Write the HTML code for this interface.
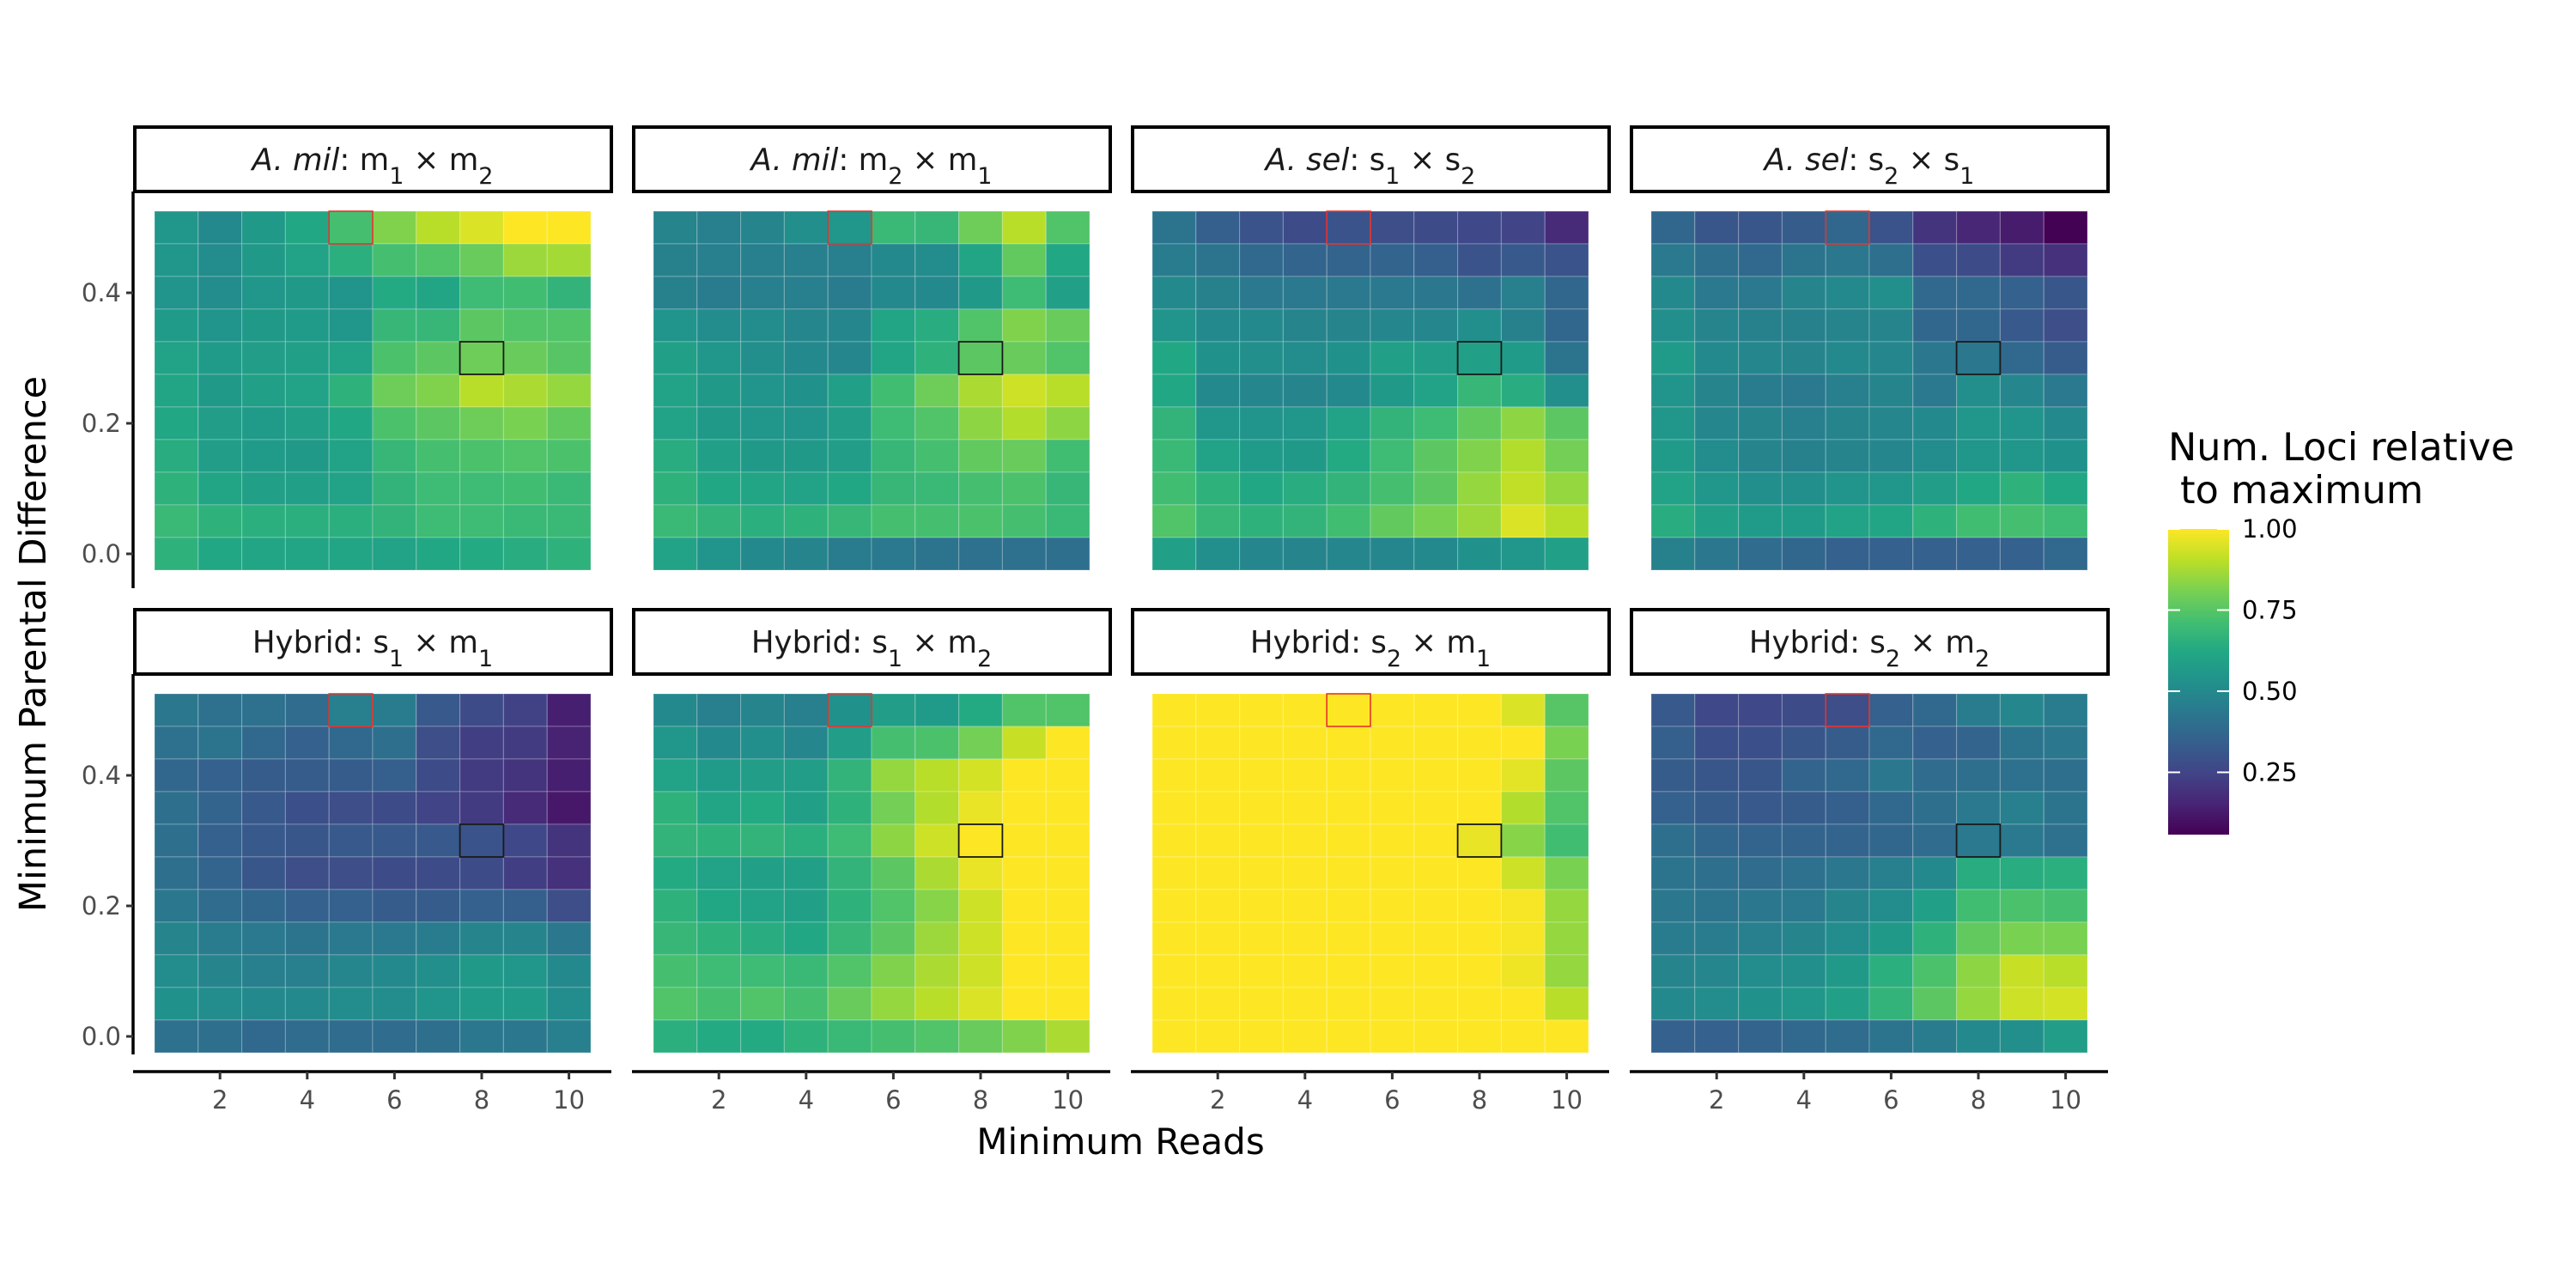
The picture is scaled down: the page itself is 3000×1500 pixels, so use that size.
<!DOCTYPE html>
<html><head><meta charset="utf-8"><style>
html,body{margin:0;padding:0;background:#fff;}
svg{display:block;font-family:"DejaVu Sans","Liberation Sans",sans-serif;}
</style></head><body>
<svg id="chart" xmlns="http://www.w3.org/2000/svg" width="3000" height="1500" viewBox="0 0 3000 1500">
<defs>
<linearGradient id="vgrad" x1="0" y1="1" x2="0" y2="0">
<stop offset="0" stop-color="#440154"/><stop offset="0.1" stop-color="#482475"/><stop offset="0.2" stop-color="#414487"/><stop offset="0.3" stop-color="#355f8d"/><stop offset="0.4" stop-color="#2a788e"/><stop offset="0.5" stop-color="#21918c"/><stop offset="0.6" stop-color="#22a884"/><stop offset="0.7" stop-color="#44bf70"/><stop offset="0.8" stop-color="#7ad151"/><stop offset="0.9" stop-color="#bddf26"/><stop offset="1" stop-color="#fde725"/>
</linearGradient>
</defs>
<rect width="3000" height="1500" fill="#fff"/>
<g id="panels"></g>
<text x="1305" y="1344" font-size="42" text-anchor="middle" fill="#000">Minimum Reads</text>
<text x="0" y="0" font-size="43" text-anchor="middle" fill="#000" transform="translate(53,750) rotate(-90)">Minimum Parental Difference</text>
<g id="legend">
<text x="2525" y="536" font-size="44.5" fill="#000">Num. Loci relative</text>
<text x="2525" y="586" font-size="44.5" fill="#000" xml:space="preserve"> to maximum</text>
<rect x="2525" y="616" width="71" height="356" fill="url(#vgrad)"/>
</g>
</svg>
<script>
const xCategories = [1,2,3,4,5,6,7,8,9,10];
const yCategories = [0.5,0.45,0.4,0.35,0.3,0.25,0.2,0.15,0.1,0.05,0.0];
const xTickLabels = [2,4,6,8,10];
const yTickLabels = [0.0,0.2,0.4];
const legendTicks = [0.25,0.5,0.75,1.0];
const colorMin = 0.058, colorMax = 1.0;
const panelTitles = [
 '<tspan font-style="italic">A. mil</tspan>: m<tspan baseline-shift="sub" font-size="27">1</tspan> × m<tspan baseline-shift="sub" font-size="27">2</tspan>',
 '<tspan font-style="italic">A. mil</tspan>: m<tspan baseline-shift="sub" font-size="27">2</tspan> × m<tspan baseline-shift="sub" font-size="27">1</tspan>',
 '<tspan font-style="italic">A. sel</tspan>: s<tspan baseline-shift="sub" font-size="27">1</tspan> × s<tspan baseline-shift="sub" font-size="27">2</tspan>',
 '<tspan font-style="italic">A. sel</tspan>: s<tspan baseline-shift="sub" font-size="27">2</tspan> × s<tspan baseline-shift="sub" font-size="27">1</tspan>',
 'Hybrid: s<tspan baseline-shift="sub" font-size="27">1</tspan> × m<tspan baseline-shift="sub" font-size="27">1</tspan>',
 'Hybrid: s<tspan baseline-shift="sub" font-size="27">1</tspan> × m<tspan baseline-shift="sub" font-size="27">2</tspan>',
 'Hybrid: s<tspan baseline-shift="sub" font-size="27">2</tspan> × m<tspan baseline-shift="sub" font-size="27">1</tspan>',
 'Hybrid: s<tspan baseline-shift="sub" font-size="27">2</tspan> × m<tspan baseline-shift="sub" font-size="27">2</tspan>'
];
const amilM1M2 = [
[0.55,0.50,0.56,0.62,0.72,0.82,0.90,0.95,1.00,1.00],
[0.55,0.51,0.56,0.60,0.65,0.72,0.74,0.78,0.86,0.87],
[0.54,0.51,0.55,0.56,0.54,0.63,0.61,0.70,0.71,0.67],
[0.57,0.54,0.56,0.57,0.55,0.68,0.68,0.76,0.74,0.74],
[0.60,0.57,0.58,0.59,0.60,0.73,0.76,0.79,0.78,0.75],
[0.61,0.56,0.59,0.60,0.66,0.79,0.82,0.90,0.88,0.85],
[0.62,0.58,0.57,0.59,0.62,0.73,0.76,0.79,0.81,0.77],
[0.64,0.58,0.57,0.56,0.60,0.68,0.72,0.73,0.74,0.73],
[0.66,0.61,0.59,0.59,0.60,0.67,0.70,0.70,0.71,0.69],
[0.69,0.66,0.65,0.65,0.65,0.67,0.70,0.70,0.69,0.69],
[0.66,0.62,0.61,0.61,0.61,0.60,0.62,0.63,0.64,0.66]];
const amilM2M1 = [
[0.48,0.46,0.48,0.52,0.55,0.69,0.68,0.79,0.90,0.74],
[0.47,0.46,0.46,0.46,0.46,0.50,0.51,0.61,0.77,0.62],
[0.47,0.45,0.46,0.46,0.45,0.50,0.50,0.56,0.70,0.59],
[0.54,0.51,0.51,0.49,0.49,0.61,0.64,0.74,0.82,0.78],
[0.59,0.55,0.52,0.50,0.49,0.61,0.66,0.76,0.78,0.74],
[0.60,0.56,0.54,0.53,0.59,0.71,0.79,0.88,0.93,0.90],
[0.60,0.56,0.55,0.54,0.58,0.70,0.74,0.84,0.89,0.84],
[0.64,0.59,0.56,0.56,0.58,0.68,0.72,0.77,0.78,0.71],
[0.66,0.62,0.61,0.60,0.62,0.68,0.69,0.72,0.73,0.68],
[0.69,0.67,0.65,0.66,0.68,0.72,0.72,0.73,0.72,0.69],
[0.60,0.54,0.50,0.48,0.45,0.44,0.42,0.41,0.41,0.40]];
const aselS1S2 = [
[0.42,0.34,0.30,0.27,0.30,0.28,0.27,0.26,0.25,0.17],
[0.45,0.42,0.38,0.36,0.36,0.36,0.34,0.30,0.32,0.30],
[0.50,0.47,0.44,0.44,0.44,0.44,0.43,0.41,0.46,0.37],
[0.54,0.50,0.50,0.48,0.48,0.49,0.49,0.52,0.47,0.37],
[0.62,0.53,0.52,0.51,0.53,0.59,0.58,0.59,0.57,0.42],
[0.62,0.50,0.49,0.48,0.50,0.56,0.60,0.68,0.64,0.52],
[0.67,0.55,0.54,0.55,0.60,0.67,0.70,0.77,0.84,0.76],
[0.69,0.60,0.57,0.56,0.63,0.70,0.76,0.82,0.89,0.80],
[0.71,0.66,0.62,0.64,0.67,0.72,0.76,0.85,0.91,0.85],
[0.74,0.68,0.66,0.67,0.71,0.77,0.81,0.86,0.95,0.90],
[0.59,0.52,0.49,0.48,0.49,0.49,0.50,0.53,0.55,0.59]];
const aselS2S1 = [
[0.37,0.31,0.31,0.33,0.37,0.30,0.20,0.16,0.13,0.06],
[0.44,0.40,0.38,0.42,0.43,0.40,0.29,0.27,0.22,0.19],
[0.50,0.44,0.44,0.48,0.50,0.52,0.38,0.38,0.35,0.31],
[0.52,0.48,0.47,0.47,0.48,0.48,0.37,0.37,0.32,0.28],
[0.57,0.50,0.49,0.48,0.50,0.49,0.43,0.43,0.38,0.33],
[0.54,0.48,0.45,0.44,0.46,0.48,0.44,0.52,0.49,0.44],
[0.55,0.49,0.48,0.46,0.48,0.49,0.50,0.55,0.54,0.50],
[0.57,0.51,0.48,0.47,0.48,0.49,0.51,0.55,0.55,0.53],
[0.60,0.55,0.52,0.52,0.54,0.55,0.58,0.62,0.66,0.62],
[0.64,0.59,0.57,0.57,0.60,0.61,0.66,0.71,0.72,0.70],
[0.47,0.43,0.39,0.37,0.35,0.35,0.35,0.35,0.35,0.38]];
const hybS1M1 = [
[0.43,0.41,0.41,0.39,0.46,0.45,0.32,0.27,0.24,0.14],
[0.41,0.42,0.38,0.35,0.38,0.40,0.28,0.23,0.22,0.15],
[0.37,0.35,0.33,0.33,0.33,0.34,0.27,0.22,0.20,0.14],
[0.40,0.36,0.32,0.29,0.28,0.27,0.25,0.22,0.17,0.12],
[0.40,0.35,0.32,0.31,0.32,0.32,0.32,0.30,0.26,0.20],
[0.40,0.36,0.31,0.28,0.28,0.27,0.27,0.27,0.23,0.19],
[0.43,0.39,0.37,0.35,0.35,0.33,0.33,0.35,0.34,0.28],
[0.48,0.45,0.44,0.42,0.44,0.44,0.45,0.48,0.48,0.43],
[0.51,0.48,0.46,0.46,0.49,0.50,0.52,0.56,0.55,0.50],
[0.53,0.51,0.50,0.50,0.51,0.51,0.54,0.57,0.57,0.51],
[0.41,0.40,0.38,0.39,0.39,0.39,0.40,0.43,0.43,0.46]];
const hybS1M2 = [
[0.50,0.46,0.48,0.46,0.53,0.58,0.57,0.63,0.74,0.74],
[0.55,0.50,0.52,0.49,0.58,0.72,0.73,0.80,0.92,1.00],
[0.60,0.57,0.58,0.58,0.67,0.85,0.90,0.94,1.00,1.00],
[0.66,0.61,0.63,0.59,0.66,0.80,0.89,0.97,1.00,1.00],
[0.67,0.66,0.67,0.65,0.70,0.84,0.93,1.00,1.00,1.00],
[0.63,0.60,0.59,0.59,0.67,0.76,0.88,0.97,1.00,1.00],
[0.66,0.62,0.60,0.59,0.66,0.74,0.83,0.93,1.00,1.00],
[0.68,0.66,0.64,0.62,0.68,0.76,0.86,0.93,1.00,1.00],
[0.72,0.70,0.70,0.69,0.74,0.82,0.88,0.93,1.00,1.00],
[0.74,0.72,0.74,0.72,0.78,0.85,0.90,0.95,1.00,1.00],
[0.65,0.63,0.63,0.66,0.69,0.72,0.74,0.78,0.82,0.88]];
const hybS2M1 = [
[1,1,1,1,1,1,1,1,0.95,0.75],
[1,1,1,1,1,1,1,1,1.00,0.81],
[1,1,1,1,1,1,1,1,0.96,0.76],
[1,1,1,1,1,1,1,1,0.89,0.74],
[1,1,1,1,1,1,1,0.97,0.83,0.71],
[1,1,1,1,1,1,1,1,0.93,0.81],
[1,1,1,1,1,1,1,1,0.99,0.85],
[1,1,1,1,1,1,1,1,0.99,0.85],
[1,1,1,1,1,1,1,1,0.98,0.85],
[1,1,1,1,1,1,1,1,1.00,0.90],
[1,1,1,1,1,1,1,1,1.00,1.00]];
const hybS2M2 = [
[0.32,0.26,0.26,0.27,0.28,0.35,0.38,0.45,0.49,0.45],
[0.34,0.29,0.29,0.31,0.33,0.38,0.35,0.36,0.42,0.43],
[0.33,0.31,0.31,0.36,0.38,0.43,0.39,0.40,0.41,0.40],
[0.35,0.33,0.32,0.33,0.34,0.38,0.40,0.44,0.46,0.42],
[0.40,0.37,0.36,0.36,0.36,0.37,0.39,0.44,0.44,0.41],
[0.42,0.40,0.39,0.41,0.43,0.46,0.50,0.64,0.64,0.65],
[0.43,0.42,0.43,0.44,0.48,0.51,0.59,0.71,0.73,0.72],
[0.45,0.45,0.46,0.48,0.51,0.56,0.66,0.77,0.81,0.81],
[0.48,0.49,0.51,0.52,0.56,0.65,0.73,0.84,0.92,0.90],
[0.50,0.51,0.53,0.55,0.59,0.67,0.76,0.85,0.93,0.94],
[0.35,0.35,0.36,0.38,0.39,0.42,0.45,0.50,0.52,0.58]];
const panelData = [amilM1M2,amilM2M1,aselS1S2,aselS2S1,hybS1M1,hybS1M2,hybS2M1,hybS2M2];
const redBox = {x:5, y:0.5};
const blackBox = {x:8, y:0.3};

const NS='http://www.w3.org/2000/svg';
const vir=['#440154','#482475','#414487','#355f8d','#2a788e','#21918c','#22a884','#44bf70','#7ad151','#bddf26','#fde725'];
function hex(h){return [1,3,5].map(i=>parseInt(h.substr(i,2),16));}
function color(v){
  let t=(v-colorMin)/(colorMax-colorMin); t=Math.max(0,Math.min(1,t));
  const p=t*10, i=Math.min(9,Math.floor(p)), f=p-i;
  const a=hex(vir[i]), b=hex(vir[i+1]);
  return 'rgb('+a.map((c,k)=>Math.round(c+(b[k]-c)*f)).join(',')+')';
}
const panelLeft=[180,761,1342,1923], rowTop=[246,808];
const W=508, H=418, cw=W/10, ch=H/11;
function xScale(p,x){return panelLeft[p%4]+(x-0.5)*cw;}
function yScale(p,y){return rowTop[Math.floor(p/4)]+H-(y/0.05+0.5)*ch;}
function mk(tag,attrs,parent){const e=document.createElementNS(NS,tag);for(const k in attrs)e.setAttribute(k,attrs[k]);parent.appendChild(e);return e;}
const root=document.getElementById('panels');
panelData.forEach((grid,p)=>{
  const g=mk('g',{},root);
  
  
  const L=panelLeft[p%4], T=rowTop[Math.floor(p/4)];
  const st=mk('rect',{x:L-23,y:T-98,width:555,height:75,fill:'#fff',stroke:'#000','stroke-width':4},g);
  
  
  const tt=mk('text',{x:L+254,y:T-48,'font-size':35.5,'text-anchor':'middle',fill:'#1a1a1a'},g);
  tt.innerHTML=panelTitles[p];
  
  
  yCategories.forEach((yv,r)=>{
    xCategories.forEach((xv,c)=>{
      const cx=xScale(p,xv), cy=yScale(p,yv);
      const rc=mk('rect',{x:cx-cw/2,y:cy-ch/2,width:cw,height:ch,fill:color(grid[r][c]),stroke:'rgba(255,255,255,0.22)','stroke-width':1.2},g);
      
      
    });
  });
  const rb=mk('rect',{x:xScale(p,redBox.x)-cw/2,y:yScale(p,redBox.y)-ch/2,width:cw,height:ch,fill:'none',stroke:'#e8322b','stroke-width':1.6},g);
  
  
  const bb=mk('rect',{x:xScale(p,blackBox.x)-cw/2,y:yScale(p,blackBox.y)-ch/2,width:cw,height:ch,fill:'none',stroke:'#1a1a1a','stroke-width':1.8},g);
  
  
  if(p%4===0){
    const ya=mk('line',{x1:155,y1:T-23,x2:155,y2:T+H+(p>=4?2:21),stroke:'#000','stroke-width':3.5},g);
    
    
    yTickLabels.forEach(v=>{
      const y=yScale(p,v);
      const tk=mk('line',{x1:147,y1:y,x2:155,y2:y,stroke:'#333','stroke-width':3},g);
      
      
      const tl=mk('text',{x:141,y:y+10,'font-size':29,'text-anchor':'end',fill:'#4d4d4d'},g);
      tl.textContent=v.toFixed(1);
      
      
    });
  }
  if(p>=4){
    const xa=mk('line',{x1:L-25,y1:1248,x2:L+532,y2:1248,stroke:'#000','stroke-width':3.5},g);
    
    
    xTickLabels.forEach(v=>{
      const x=xScale(p,v);
      const tk=mk('line',{x1:x,y1:1248,x2:x,y2:1257,stroke:'#333','stroke-width':3},g);
      
      
      const tl=mk('text',{x:x,y:1291,'font-size':29,'text-anchor':'middle',fill:'#4d4d4d'},g);
      tl.textContent=v;
      
      
    });
  }
});
const lg=document.getElementById('legend');
function legY(v){return 972-(v-colorMin)/(colorMax-colorMin)*356;}
legendTicks.forEach(v=>{
  const y=legY(v);
  const a=mk('line',{x1:2525,y1:y,x2:2539,y2:y,stroke:'#fff','stroke-width':2},lg);
  
  
  const b=mk('line',{x1:2582,y1:y,x2:2596,y2:y,stroke:'#fff','stroke-width':2},lg);
  
  
  const t=mk('text',{x:2611,y:y+10,'font-size':29,fill:'#000'},lg);
  t.textContent=v.toFixed(2);
  
  
});
</script>
</body></html>
